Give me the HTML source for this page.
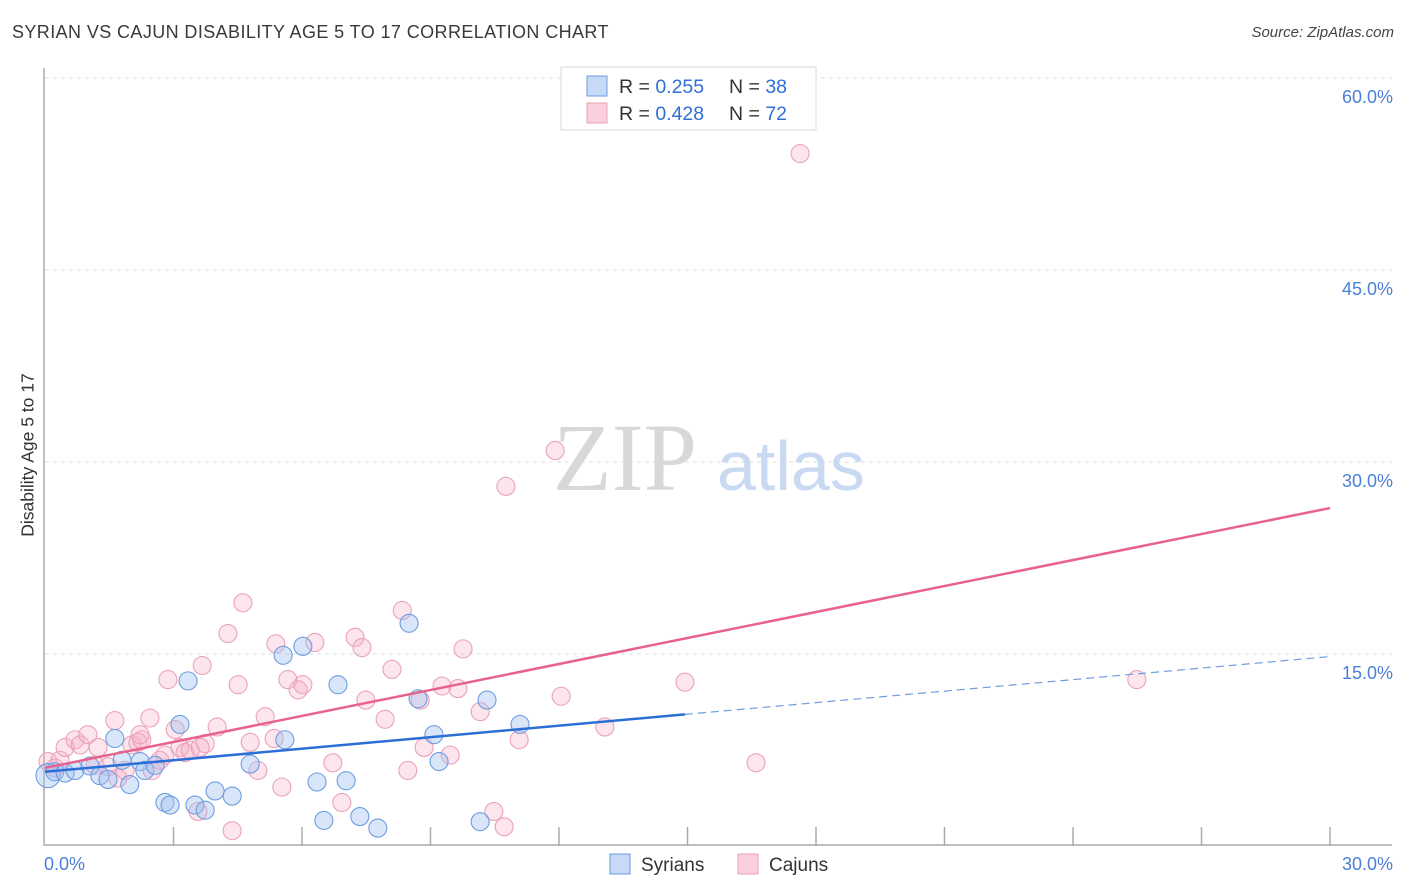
<!DOCTYPE html>
<html><head><meta charset="utf-8">
<style>
body{margin:0;background:#fff;font-family:"Liberation Sans",sans-serif;}
#wrap{position:relative;width:1406px;height:892px;overflow:hidden;}
.t{position:absolute;white-space:nowrap;}
</style></head><body>
<div id="wrap">
<div class="t" style="left:12px;top:22px;font-size:18px;color:#3a3a3a;letter-spacing:0.4px">SYRIAN VS CAJUN DISABILITY AGE 5 TO 17 CORRELATION CHART</div>
<div class="t" style="right:12px;top:24px;font-size:15px;color:#444;font-style:italic">Source: ZipAtlas.com</div>
<div class="t" style="left:28px;top:455px;font-size:17.5px;color:#333;transform:translate(-50%,-50%) rotate(-90deg)">Disability Age 5 to 17</div>
<svg id="svg" width="1406" height="892" style="position:absolute;left:0;top:0"></svg>
</div>
<script>
const yTicks=[15,30,45,60];
const yTickLabels=["15.0%","30.0%","45.0%","60.0%"];
const xTickLabels=["0.0%","30.0%"];
const syrX=[0.07,0.23,0.47,0.70,1.05,1.28,1.47,1.63,1.80,1.98,2.22,2.33,2.57,2.80,2.92,3.15,3.34,3.50,3.74,3.97,4.37,4.79,5.56,5.60,6.02,6.35,6.51,6.84,7.03,7.35,7.77,8.50,8.71,9.08,9.20,10.16,10.32,11.09];
const syrY=[5.5,5.8,5.7,5.9,6.25,5.5,5.2,8.4,6.7,4.8,6.6,5.9,6.3,3.4,3.2,9.5,12.9,3.2,2.8,4.3,3.9,6.4,14.9,8.3,15.6,5.0,2.0,12.6,5.1,2.3,1.4,17.4,11.5,8.7,6.6,1.9,11.4,9.5];
const cajX=[0.07,0.23,0.35,0.47,0.70,0.82,1.00,1.17,1.24,1.47,1.63,1.70,1.87,2.03,2.17,2.26,2.45,2.50,2.68,2.80,2.87,3.04,3.15,3.27,3.39,3.67,3.74,4.02,4.27,4.37,4.51,4.62,4.79,4.97,5.14,5.35,5.39,5.53,5.67,5.91,6.02,6.30,6.72,6.93,7.24,7.40,7.49,7.94,8.10,8.34,8.47,8.76,8.85,9.27,9.46,9.64,9.76,10.16,10.48,10.72,10.76,11.07,11.91,12.05,13.07,14.94,16.60,17.63,25.49,3.57,3.62,2.22];
const cajY=[6.6,6.1,6.7,7.7,8.3,7.9,8.7,6.3,7.7,6.2,9.8,5.3,5.9,7.9,8.1,8.3,10.0,5.9,6.7,7.1,13.0,9.1,7.7,7.3,7.5,14.1,8.0,9.3,16.6,1.2,12.6,19.0,8.1,5.9,10.1,8.4,15.8,4.6,13.0,12.2,12.6,15.9,6.5,3.4,16.3,15.5,11.4,9.9,13.8,18.4,5.9,11.4,7.7,12.5,7.1,12.3,15.4,10.5,2.7,1.5,28.1,8.3,30.9,11.7,9.3,12.8,6.5,54.1,13.0,2.7,7.7,8.7];
const syrTrend=[5.8,14.8];
const cajTrend=[6.1,26.4];
const syrSolidEnd=14.94;

const NS="http://www.w3.org/2000/svg";
const svg=document.getElementById('svg');
const X0=45,X1=1330,Y0=846,Y60=78;
const sx=v=>X0+(v/30)*(X1-X0);
const sy=v=>Y0-(v/60)*(Y0-Y60);
function mk(tag,attrs,parent){const e=document.createElementNS(NS,tag);for(const k in attrs)e.setAttribute(k,attrs[k]);(parent||svg).appendChild(e);return e;}

yTicks.forEach((v,i)=>{
  const g=mk('line',{x1:X0,x2:1392,y1:sy(v),y2:sy(v),stroke:'#dcdcdc','stroke-dasharray':'4,4'});
  
  
  const t=mk('text',{x:1393,y:sy(v)+25,'text-anchor':'end','font-size':18,fill:'#4a7fd8','font-family':'Liberation Sans,sans-serif'});
  t.textContent=yTickLabels[i];
  
  
});
const ax=mk('path',{d:`M${X0-1},68 V${Y0-1} H${X1+62}`,fill:'none',stroke:'#aaa','stroke-width':1.5});


for(let i=1;i<=10;i++){
  const x=sx(i*3);
  const tk=mk('line',{x1:x,x2:x,y1:Y0-19,y2:Y0,stroke:'#aaa','stroke-width':1.5});
  
  
}
const xl0=mk('text',{x:44,y:870,'font-size':18,fill:'#4a7fd8','font-family':'Liberation Sans,sans-serif'});
xl0.textContent=xTickLabels[0];


const xl1=mk('text',{x:1393,y:870,'text-anchor':'end','font-size':18,fill:'#4a7fd8','font-family':'Liberation Sans,sans-serif'});
xl1.textContent=xTickLabels[1];



const wm=mk('text',{x:553,y:490,'font-size':96,fill:'#d8d8d8','font-family':'Liberation Serif,serif'});
wm.textContent='ZIP';


const wm2=mk('text',{x:717,y:490,'font-size':70,fill:'#c9d9f2','font-family':'Liberation Sans,sans-serif'});
wm2.textContent='atlas';



cajX.forEach((x,i)=>{
  const c=mk('circle',{cx:sx(x),cy:sy(cajY[i]),r:9,fill:'rgba(246,175,200,0.32)',stroke:'#eaa2bb','stroke-width':1.1});
  
  
});
syrX.forEach((x,i)=>{
  const c=mk('circle',{cx:sx(x),cy:sy(syrY[i]),r:i===0?12:9,fill:'rgba(160,192,240,0.4)',stroke:'#6e9de0','stroke-width':1.1});
  
  
});
const ty=(tr,x)=>tr[0]+(tr[1]-tr[0])*x/30;
const cl=mk('line',{x1:sx(0),y1:sy(ty(cajTrend,0)),x2:sx(30),y2:sy(ty(cajTrend,30)),stroke:'#e8628f','stroke-width':2.5});


const bl=mk('line',{x1:sx(0),y1:sy(ty(syrTrend,0)),x2:sx(syrSolidEnd),y2:sy(ty(syrTrend,syrSolidEnd)),stroke:'#2b6fd6','stroke-width':2.5});


const bd=mk('line',{x1:sx(syrSolidEnd),y1:sy(ty(syrTrend,syrSolidEnd)),x2:sx(30),y2:sy(ty(syrTrend,30)),stroke:'#6e9de0','stroke-width':1.2,'stroke-dasharray':'8,5'});



const lg=mk('rect',{x:561,y:67,width:255,height:63,fill:'#fff',stroke:'#d8d8d8'});


const rows=[["0.255","38",'rgba(160,192,240,0.6)','#6e9de0'],["0.428","72",'rgba(246,175,200,0.6)','#eaa2bb']];
rows.forEach((r,i)=>{
  const y=86+i*27;
  const s=mk('rect',{x:587,y:y-10,width:20,height:20,fill:r[2],stroke:r[3]});
  
  
  const t=mk('text',{x:619,y:y+7,'font-size':19.5,fill:'#333','font-family':'Liberation Sans,sans-serif'});
  t.innerHTML=`R = <tspan fill="#2f6fd6">${r[0]}</tspan><tspan x="729">N = </tspan><tspan fill="#2f6fd6">${r[1]}</tspan>`;
  
  
});
[["Syrians",610,'rgba(160,192,240,0.6)','#6e9de0'],["Cajuns",738,'rgba(246,175,200,0.6)','#eaa2bb']].forEach(r=>{
  const s=mk('rect',{x:r[1],y:854,width:20,height:20,fill:r[2],stroke:r[3]});
  
  
  const t=mk('text',{x:r[1]+31,y:871,'font-size':19,fill:'#333','font-family':'Liberation Sans,sans-serif'});
  t.textContent=r[0];
  
  
});
</script>
</body></html>
